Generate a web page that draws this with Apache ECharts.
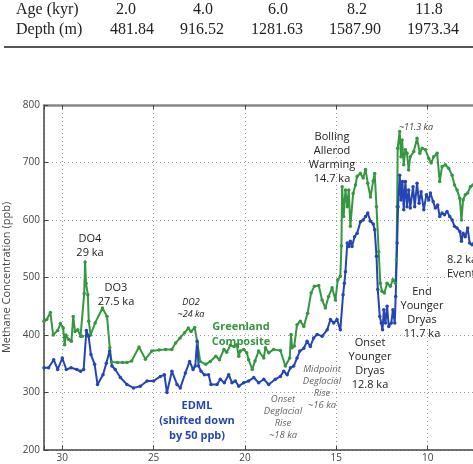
<!DOCTYPE html>
<html>
<head>
<meta charset="utf-8">
<script src="https://cdn.jsdelivr.net/npm/echarts@6/dist/echarts.min.js"></script>
<style>
  html, body { margin: 0; padding: 0; background: #fff; overflow: hidden; }
  #chart { width: 540px; height: 464px; }
</style>
</head>
<body>
<div id="chart"></div>
<script>
// 表头数据
const tableAge = ['2.0', '4.0', '6.0', '8.2', '11.8'];
const tableDepth = ['481.84', '916.52', '1281.63', '1587.90', '1973.34'];

// Greenland Composite (age kyr, ppb)
const greenAge = [31.0, 30.85, 30.65, 30.5, 30.25, 30.1, 29.95, 29.87, 29.8, 29.65, 29.5, 29.4, 29.3, 29.15, 29.0, 28.9, 28.8, 28.75, 28.7, 28.6, 28.55, 28.45, 28.2, 27.8, 27.55, 27.4, 27.3, 26.97, 26.7, 26.46, 26.2, 25.8, 25.45, 25.1, 24.7, 24.35, 24.0, 23.8, 23.55, 23.3, 23.1, 22.95, 22.75, 22.6, 22.45, 22.15, 21.9, 21.6, 21.4, 21.15, 21.0, 20.8, 20.6, 20.45, 20.34, 20.25, 20.07, 19.9, 19.8, 19.6, 19.45, 19.25, 18.97, 18.88, 18.7, 18.43, 18.06, 17.79, 17.55, 17.48, 17.42, 17.3, 17.15, 16.97, 16.78, 16.57, 16.38, 16.2, 15.96, 15.78, 15.6, 15.42, 15.23, 15.05, 14.92, 14.78, 14.72, 14.68, 14.6, 14.5, 14.4, 14.32, 14.23, 14.08, 13.95, 13.86, 13.68, 13.53, 13.4, 13.28, 13.13, 12.98, 12.9, 12.8, 12.68, 12.59, 12.5, 12.37, 12.22, 12.04, 11.9, 11.76, 11.71, 11.67, 11.64, 11.53, 11.46, 11.4, 11.31, 11.22, 11.13, 11.04, 10.95, 10.76, 10.58, 10.43, 10.3, 10.12, 9.94, 9.81, 9.67, 9.48, 9.34, 9.21, 9.03, 8.85, 8.66, 8.53, 8.39, 8.24, 8.15, 8.06, 7.94, 7.81, 7.66, 7.52, 7.3, 7.0];
const greenPpb = [424, 427, 439, 400, 408, 420, 412, 383, 400, 392, 389, 432, 406, 409, 398, 398, 472, 527, 490, 470, 424, 400, 421, 447, 432, 378, 353, 352, 352, 352, 355, 379, 358, 372, 374, 375, 375, 386, 395, 404, 412, 406, 413, 386, 354, 349, 354, 363, 357, 375, 370, 382, 380, 383, 363, 372, 375, 369, 357, 340, 355, 372, 360, 378, 369, 375, 373, 346, 360, 401, 378, 381, 418, 424, 415, 438, 473, 485, 486, 461, 447, 467, 482, 461, 496, 502, 555, 658, 606, 652, 623, 652, 589, 646, 661, 676, 681, 673, 688, 664, 640, 668, 681, 623, 545, 490, 476, 473, 490, 485, 496, 490, 531, 623, 725, 754, 710, 739, 696, 722, 716, 687, 710, 719, 742, 716, 725, 722, 707, 699, 710, 716, 667, 693, 696, 690, 678, 661, 652, 638, 600, 635, 644, 647, 658, 661, 655, 660];

// EDML (shifted down by 50 ppb)
const blueAge = [31.0, 30.75, 30.47, 30.25, 30.0, 29.78, 29.52, 29.2, 29.0, 28.83, 28.68, 28.56, 28.43, 28.23, 28.07, 27.77, 27.59, 27.41, 27.28, 27.1, 26.82, 26.46, 26.1, 25.73, 25.36, 25.0, 24.63, 24.41, 24.27, 24.0, 23.72, 23.54, 23.26, 23.03, 22.84, 22.72, 22.62, 22.54, 22.4, 22.22, 21.99, 21.86, 21.53, 21.35, 21.13, 20.89, 20.71, 20.53, 20.34, 20.07, 19.8, 19.52, 19.25, 18.97, 18.7, 18.34, 18.06, 17.88, 17.69, 17.51, 17.33, 17.15, 17.0, 16.78, 16.6, 16.42, 16.24, 16.05, 15.78, 15.5, 15.32, 15.14, 14.96, 14.78, 14.63, 14.56, 14.5, 14.4, 14.32, 14.23, 14.14, 14.0, 13.86, 13.68, 13.53, 13.4, 13.28, 13.13, 12.98, 12.9, 12.8, 12.73, 12.62, 12.54, 12.47, 12.4, 12.31, 12.22, 12.13, 11.99, 11.9, 11.8, 11.75, 11.67, 11.62, 11.53, 11.46, 11.38, 11.31, 11.22, 11.13, 11.04, 10.95, 10.8, 10.71, 10.58, 10.47, 10.36, 10.21, 10.07, 9.94, 9.85, 9.7, 9.58, 9.45, 9.34, 9.21, 9.08, 8.94, 8.79, 8.66, 8.53, 8.39, 8.24, 8.15, 8.06, 7.94, 7.81, 7.7, 7.57, 7.3, 7.0];
const bluePpb = [343, 343, 357, 340, 360, 340, 343, 340, 337, 340, 408, 398, 366, 349, 314, 331, 351, 372, 346, 340, 326, 314, 308, 311, 320, 320, 328, 331, 300, 337, 314, 308, 334, 354, 340, 346, 389, 346, 337, 331, 331, 314, 314, 323, 317, 331, 317, 320, 311, 317, 320, 326, 317, 323, 314, 323, 328, 337, 331, 343, 346, 360, 372, 377, 389, 380, 395, 401, 398, 409, 427, 421, 427, 409, 470, 490, 510, 560, 554, 563, 554, 571, 577, 597, 600, 606, 612, 598, 593, 583, 537, 479, 432, 421, 409, 444, 421, 450, 415, 421, 444, 421, 467, 560, 623, 678, 635, 667, 618, 667, 623, 652, 621, 658, 623, 664, 629, 649, 618, 644, 635, 647, 632, 621, 626, 606, 612, 609, 615, 606, 600, 589, 586, 580, 563, 577, 571, 586, 560, 557, 570, 575];

const zip = (a, b) => a.map((v, i) => [v, b[i]]);

const GREEN = '#35973f';
const BLUE = '#2445b4';
const SANS = '"Open Sans", "Noto Sans", sans-serif';

const chart = echarts.init(document.getElementById('chart'));

// 文本注释
function label(x, y, lines, opt) {
    opt = opt || {};
    return {
        type: 'text', x: x, y: y, z: 10,
        style: {
            text: lines.join('\n'),
            fontFamily: SANS,
            fontSize: opt.size || 11,
            fontStyle: opt.italic ? 'italic' : 'normal',
            fontWeight: opt.bold ? 'bold' : 'normal',
            fill: opt.color || '#222',
            align: opt.align || 'center',
            verticalAlign: 'top',
            lineHeight: opt.lh || 14
        }
    };
}

const tableX = [126, 203, 278, 357, 429];
const tableDX = [132, 202, 277, 355, 433];
const serif = { fontFamily: '"Liberation Serif", serif', fontSize: 16, fill: '#222', verticalAlign: 'middle' };
const graphics = [
    { type: 'text', x: 16, y: 10, style: Object.assign({ text: 'Age (kyr)', align: 'left' }, serif) },
    { type: 'text', x: 16, y: 30, style: Object.assign({ text: 'Depth (m)', align: 'left' }, serif) },
    { type: 'rect', shape: { x: 4, y: 46, width: 540, height: 2 }, style: { fill: '#555' } }
];
tableAge.forEach((t, i) => graphics.push({ type: 'text', x: tableX[i], y: 10, style: Object.assign({ text: t, align: 'center' }, serif) }));
tableDepth.forEach((t, i) => graphics.push({ type: 'text', x: tableDX[i], y: 30, style: Object.assign({ text: t, align: 'center' }, serif) }));

graphics.push(
    label(90, 232, ['DO4', '29 ka']),
    label(116, 281, ['DO3', '27.5 ka']),
    label(191, 296, ['DO2', '~24 ka'], { italic: true, size: 9, lh: 12 }),
    label(241, 319, ['Greenland', 'Composite'], { bold: true, color: GREEN, lh: 15 }),
    label(197, 398, ['EDML', '(shifted down', 'by 50 ppb)'], { bold: true, color: BLUE, lh: 15 }),
    label(283, 393, ['Onset', 'Deglacial', 'Rise', '~18 ka'], { italic: true, size: 9.5, color: '#666', lh: 12 }),
    label(322, 363, ['Midpoint', 'Deglacial', 'Rise', '~16 ka'], { italic: true, size: 9.5, color: '#666', lh: 12 }),
    label(370, 336, ['Onset', 'Younger', 'Dryas', '12.8 ka'], { lh: 14 }),
    label(422, 285, ['End', 'Younger', 'Dryas', '11.7 ka'], { lh: 14 }),
    label(332, 130, ['Bolling', 'Allerod', 'Warming', '14.7 ka'], { lh: 14 }),
    label(416, 120, ['~11.3 ka'], { italic: true, size: 9, color: '#444' }),
    label(447, 253, ['8.2 ka', 'Event'], { align: 'left', lh: 14 })
);

const dotted = { show: true, lineStyle: { color: '#9a9a9a', type: [1, 3], width: 1 } };

chart.setOption({
    animation: false,
    grid: { left: 44, right: 21, top: 105, bottom: 14, outerBoundsMode: 'none', containLabel: false },
    xAxis: [{
        type: 'value', inverse: true, min: 5, max: 31, interval: 5,
        axisLine: { show: true, onZero: false, lineStyle: { color: '#444', width: 1.5 } },
        axisTick: { show: true, inside: true, length: 4, lineStyle: { color: '#444' } },
        axisLabel: { color: '#444', fontSize: 10, fontFamily: SANS, margin: 3,
            formatter: v => (v > 30 ? '' : v) },
        splitLine: dotted
    }, {
        type: 'value', inverse: true, min: 5, max: 31, interval: 5, position: 'top',
        axisLine: { show: true, lineStyle: { color: '#888', width: 2.5 } },
        axisTick: { show: true, inside: true, length: 4, lineStyle: { color: '#444' } },
        axisLabel: { show: false }, splitLine: { show: false }
    }],
    yAxis: {
        type: 'value', min: 200, max: 800, interval: 100,
        name: 'Methane Concentration (ppb)', nameLocation: 'middle', nameGap: 30,
        nameTextStyle: { color: '#444', fontSize: 11, fontFamily: SANS },
        axisLine: { show: true, lineStyle: { color: '#444', width: 1.5 } },
        axisTick: { show: true, inside: true, length: 4, lineStyle: { color: '#444' } },
        axisLabel: { color: '#444', fontSize: 10, fontFamily: SANS, margin: 4 },
        splitLine: dotted
    },
    series: [{
        type: 'line', name: 'Greenland Composite', data: zip(greenAge, greenPpb),
        symbol: 'circle', symbolSize: 3.5, showSymbol: true,
        itemStyle: { color: GREEN }, lineStyle: { color: GREEN, width: 2 }
    }, {
        type: 'line', name: 'EDML', data: zip(blueAge, bluePpb),
        symbol: 'circle', symbolSize: 3.5, showSymbol: true,
        itemStyle: { color: BLUE }, lineStyle: { color: BLUE, width: 2 }
    }],
    graphic: graphics
});
</script>
</body>
</html>
